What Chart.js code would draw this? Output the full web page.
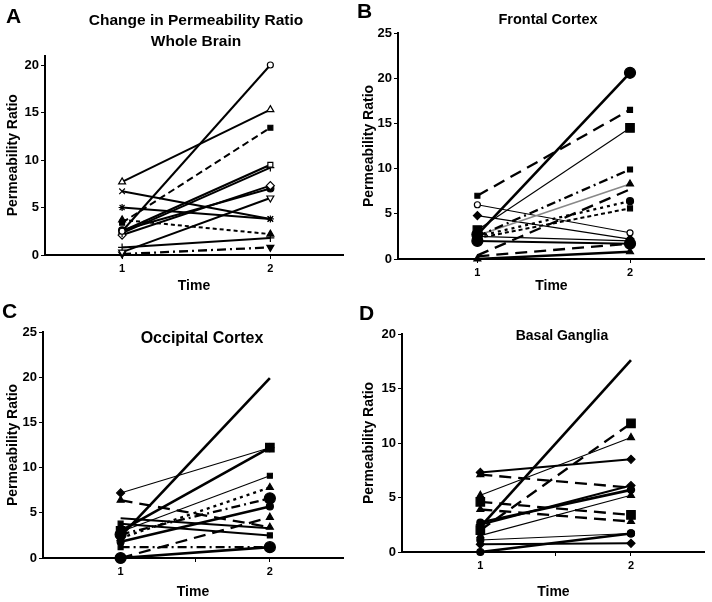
<!DOCTYPE html>
<html>
<head>
<meta charset="utf-8">
<script src="https://cdn.jsdelivr.net/npm/chart.js@4.4.1/dist/chart.umd.min.js"></script>
<style>
  body { margin: 0; background: #fff; width: 712px; height: 602px; position: relative; overflow: hidden;
         font-family: "Liberation Sans", Arial, sans-serif; color: #000; }
  .panel { position: absolute; }
  .letter { position: absolute; font-weight: bold; font-size: 21px; line-height: 21px; }
  .ttl { position: absolute; font-weight: bold; line-height: 21px; text-align: center; }
</style>
</head>
<body>
<canvas id="cA" class="panel" width="356" height="296" style="left:0;top:0"></canvas>
<canvas id="cB" class="panel" width="356" height="296" style="left:356px;top:0"></canvas>
<canvas id="cC" class="panel" width="356" height="306" style="left:0;top:296px"></canvas>
<canvas id="cD" class="panel" width="356" height="306" style="left:356px;top:296px"></canvas>

<div class="letter" style="left:6px;top:5px">A</div>
<div class="letter" style="left:357px;top:0px">B</div>
<div class="letter" style="left:2px;top:300px">C</div>
<div class="letter" style="left:359px;top:302px">D</div>

<div class="ttl" style="left:46px;top:9px;width:300px;font-size:15.5px">Change in Permeability Ratio<br>Whole Brain</div>
<div class="ttl" style="left:398px;top:9px;width:300px;font-size:14.5px">Frontal Cortex</div>
<div class="ttl" style="left:52px;top:327px;width:300px;font-size:16px">Occipital Cortex</div>
<div class="ttl" style="left:412px;top:325px;width:300px;font-size:14px">Basal Ganglia</div>

<script>
// time points
var times = [1, 2];

// A - whole brain
var wholeT1 = [2.5, 7.7, 3.4, 2.5, 2.3, 2.1, 2.6, 0.3, 6.7, 5.0, 3.7, 0.8, 0.1];
var wholeT2 = [20.0, 15.3, 13.4, 9.5, 9.2, 7.3, 7.0, 6.0, 3.8, 3.8, 2.2, 1.8, 0.8];
var wholeMarker = ['circleOpen', 'triangleOpen', 'rect', 'rectOpen', 'cross', 'diamondOpen', 'circle',
                   'triDownOpen', 'crossRot', 'star', 'triangle', 'cross', 'triDown'];
var wholeDash = ['solid', 'solid', 'dash', 'solid', 'solid', 'solid', 'solid', 'solid', 'solid', 'solid',
                 'short', 'solid', 'dashdot'];

// B - frontal cortex
var frontT1 = [2.7, 7.0, 3.2, 2.5, 2.6, 0.4, 2.5, 2.3, 6.0, 4.8, 2.5, 2.0, 0.3, 0.0];
var frontT2 = [20.6, 16.5, 14.5, 9.9, 8.3, 7.7, 6.4, 5.6, 2.9, 2.2, 2.0, 1.7, 1.7, 0.8];
var frontMarker = ['bigCircle', 'rect', 'bigRect', 'rect', 'triangle', 'none', 'circle', 'rect',
                   'circleOpen', 'diamond', 'circle', 'bigCircle', 'none', 'triangle'];
var frontDash = ['thick', 'long', 'thin', 'dashdot', 'gray', 'long', 'dot', 'short',
                 'thin', 'thin', 'thin', 'solid', 'long', 'thick'];

// C - occipital cortex
var occT1 = [2.4, 7.2, 3.0, 2.9, 2.2, 2.6, 1.8, 0.0, 6.4, 4.4, 3.8, 1.2, 0.0];
var occT2 = [19.9, 12.2, 12.2, 9.1, 7.8, 6.6, 5.7, 4.5, 3.4, 3.3, 2.5, 1.2, 1.2];
var occMarker = ['none', 'diamond', 'bigRect', 'rect', 'triangle', 'bigCircle', 'circle', 'triangle',
                 'triangle', 'none', 'rect', 'rect', 'bigCircle'];
var occDash = ['thick', 'thin', 'thick', 'thin', 'dot', 'dashdot', 'thick', 'long',
               'long', 'solid', 'solid', 'dashdot', 'thick'];

// D - basal ganglia
var basalT1 = [2.3, 2.0, 5.2, 7.3, 7.1, 2.5, 2.7, 1.5, 4.6, 3.9, 0.0, 1.1, 0.7];
var basalT2 = [17.6, 11.8, 10.5, 8.5, 5.9, 6.1, 5.7, 5.2, 3.4, 2.8, 1.7, 1.7, 0.8];
var basalMarker = ['none', 'bigRect', 'triangle', 'diamond', 'triangle', 'diamond', 'circle', 'triangle',
                   'bigRect', 'triangle', 'circle', 'circle', 'diamond'];
var basalDash = ['thick', 'long', 'thin', 'solid', 'long', 'solid', 'thick', 'thin',
                 'long', 'long', 'thick', 'thin', 'solid'];

var FONT = '"Liberation Sans", Arial, sans-serif';

function markerOpts(m) {
  var o = { pointStyle: 'circle', radius: 3, rot: 0, fill: '#000' };
  switch (m) {
    case 'circleOpen': o.fill = '#fff'; break;
    case 'circle': o.radius = 3.5; break;
    case 'bigCircle': o.radius = 5.5; break;
    case 'triangle': o.pointStyle = 'triangle'; o.radius = 4; break;
    case 'triangleOpen': o.pointStyle = 'triangle'; o.radius = 4; o.fill = '#fff'; break;
    case 'triDown': o.pointStyle = 'triangle'; o.radius = 4; o.rot = 180; break;
    case 'triDownOpen': o.pointStyle = 'triangle'; o.radius = 4; o.rot = 180; o.fill = '#fff'; break;
    case 'rect': o.pointStyle = 'rect'; o.radius = 3.5; break;
    case 'rectOpen': o.pointStyle = 'rect'; o.radius = 3.5; o.fill = '#fff'; break;
    case 'bigRect': o.pointStyle = 'rect'; o.radius = 6; break;
    case 'diamond': o.pointStyle = 'rectRot'; o.radius = 4; break;
    case 'diamondOpen': o.pointStyle = 'rectRot'; o.radius = 4; o.fill = '#fff'; break;
    case 'cross': o.pointStyle = 'cross'; o.radius = 4; break;
    case 'crossRot': o.pointStyle = 'crossRot'; o.radius = 4; break;
    case 'star': o.pointStyle = 'star'; o.radius = 3.5; break;
    case 'none': o.radius = 0; break;
  }
  return o;
}

function lineOpts(d) {
  var o = { width: 2, dash: [], color: '#000' };
  if (d === 'thick') o.width = 2.6;
  if (d === 'thin') o.width = 1.1;
  if (d === 'gray') { o.width = 1.6; o.color = '#888'; }
  if (d === 'dash') o.dash = [7, 4];
  if (d === 'long') { o.dash = [12, 7]; o.width = 2.3; }
  if (d === 'short') o.dash = [4, 3];
  if (d === 'dashdot') { o.dash = [9, 4, 2, 4]; o.width = 2.3; }
  if (d === 'dot') { o.dash = [3, 4]; o.width = 2.3; }
  return o;
}

function makeChart(id, t1, t2, markers, dashes, area, yMax, xTicks) {
  var canvas = document.getElementById(id);
  var datasets = [];
  for (var i = 0; i < t1.length; i++) {
    var m = markerOpts(markers[i]);
    var l = lineOpts(dashes[i]);
    datasets.push({
      data: [{ x: times[0], y: t1[i] }, { x: times[1], y: t2[i] }],
      borderColor: l.color,
      borderWidth: l.width,
      borderDash: l.dash,
      pointStyle: m.pointStyle,
      pointRadius: m.radius,
      pointRotation: m.rot,
      pointBackgroundColor: m.fill,
      pointBorderColor: '#000',
      pointBorderWidth: 1.2,
      clip: false
    });
  }
  return new Chart(canvas, {
    type: 'line',
    data: { datasets: datasets },
    options: {
      responsive: false,
      animation: false,
      layout: { padding: { left: 0, top: area.top, right: canvas.width - area.right, bottom: 0 } },
      plugins: { legend: { display: false }, tooltip: { enabled: false } },
      scales: {
        x: {
          type: 'linear', min: 0.48, max: 2.49,
          afterBuildTicks: function (s) { s.ticks = xTicks.map(function (v) { return { value: v }; }); },
          afterFit: function (s) { s.height = canvas.height - area.bottom; },
          ticks: {
            color: '#000', padding: 3,
            font: { family: FONT, size: 11, weight: 'bold' },
            callback: function (v) { return (v === 1 || v === 2) ? String(v) : ''; }
          },
          grid: { display: true, drawOnChartArea: false, drawTicks: true, tickLength: 4, color: '#000', lineWidth: 1 },
          border: { display: true, color: '#000', width: 2 },
          title: { display: true, text: 'Time', color: '#000', padding: { top: 0, bottom: 1 },
                   font: { family: FONT, size: 14, weight: 'bold' } }
        },
        y: {
          min: 0, max: yMax,
          afterBuildTicks: function (s) {
            var t = [];
            for (var v = 0; v <= yMax; v += 5) t.push({ value: v });
            s.ticks = t;
          },
          afterFit: function (s) { s.width = area.left; },
          ticks: { color: '#000', padding: 2, font: { family: FONT, size: 13, weight: 'bold' } },
          grid: { display: true, drawOnChartArea: false, drawTicks: true, tickLength: 4, color: '#000', lineWidth: 1 },
          border: { display: true, color: '#000', width: 2 },
          title: { display: true, text: 'Permeability Ratio', color: '#000', padding: { top: 5, bottom: 0 },
                   font: { family: FONT, size: 14, weight: 'bold' } }
        }
      }
    }
  });
}

makeChart('cA', wholeT1, wholeT2, wholeMarker, wholeDash, { left: 45, right: 343, top: 55.5, bottom: 255 }, 21, [1, 2]);
makeChart('cB', frontT1, frontT2, frontMarker, frontDash, { left: 42, right: 349, top: 33, bottom: 259 }, 25, [1, 2]);
makeChart('cC', occT1, occT2, occMarker, occDash, { left: 43, right: 343, top: 36, bottom: 262 }, 25, [1, 1.5, 2]);
makeChart('cD', basalT1, basalT2, basalMarker, basalDash, { left: 46, right: 349, top: 38, bottom: 256 }, 20, [1, 1.5, 2]);
</script>
</body>
</html>
